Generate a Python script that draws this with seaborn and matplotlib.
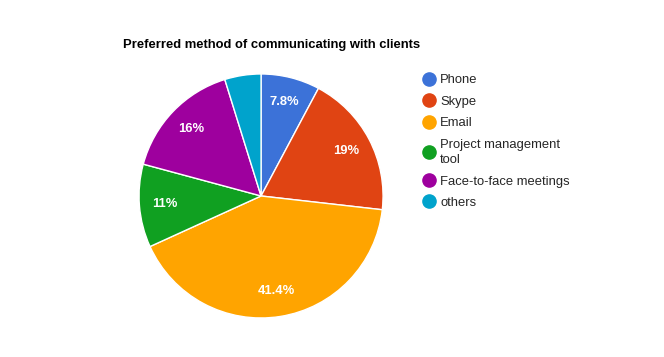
import matplotlib
matplotlib.use("Agg")
import matplotlib.pyplot as plt
from matplotlib.lines import Line2D
import seaborn as sns

# data
methods = ["Phone", "Skype", "Email", "Project management\ntool",
           "Face-to-face meetings", "others"]
shares = [7.8, 19.0, 41.4, 11.0, 16.0, 4.8]
colors = ["#3c72d8", "#e04413", "#ffa400", "#10a021", "#9e009e", "#00a3cc"]

sns.set_style("white")
plt.rcParams["font.family"] = ["Liberation Sans", "DejaVu Sans"]
palette = sns.color_palette(colors)

fig = plt.figure(figsize=(6.64, 3.57), dpi=100)
ax = fig.add_axes([0.2094, 0.1093, 0.3675, 0.6835])


def pct_label(p):
    # small slices get no label, like the original
    return "" if p < 6 else f"{p:.3g}%"


wedges, texts, autotexts = ax.pie(
    shares, colors=palette, startangle=90, counterclock=False,
    autopct=pct_label, pctdistance=0.79, radius=1,
    wedgeprops=dict(edgecolor="white", linewidth=1),
    textprops=dict(color="white", fontsize=9.4, fontweight="bold"))
ax.set_xlim(-1, 1)
ax.set_ylim(-1, 1)
ax.set_aspect("equal")

fig.text(123 / 664, 1 - 45 / 357, "Preferred method of communicating with clients",
         fontsize=9.4, fontweight="bold", ha="left", va="center", color="#000000")

handles = [Line2D([], [], marker="o", linestyle="", markersize=9.5,
                  markerfacecolor=c, markeredgecolor=c) for c in palette]
leg = fig.legend(handles, methods, loc="upper left", bbox_to_anchor=(416 / 664, 1 - 69 / 357),
                 frameon=False, fontsize=9.4, handletextpad=0.25, labelspacing=0.72,
                 handlelength=1.2, borderaxespad=0)
for t in leg.get_texts():
    t.set_linespacing(1.35)

fig.savefig("out.png", dpi=100)
